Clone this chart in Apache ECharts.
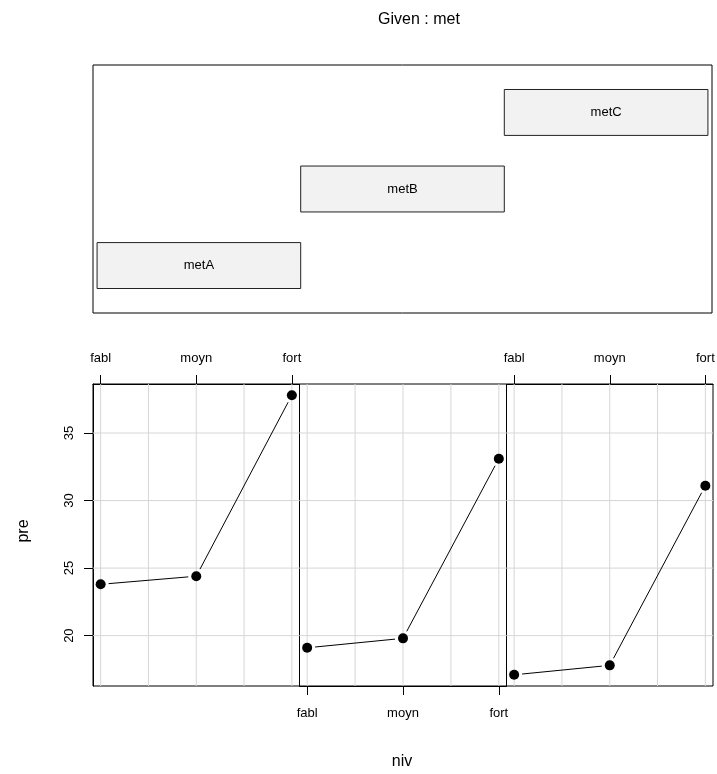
<!DOCTYPE html>
<html><head><meta charset="utf-8">
<script src="https://cdn.jsdelivr.net/npm/echarts@6/dist/echarts.min.js"></script>
<style>html,body{margin:0;padding:0;background:#fff}#c{width:717px;height:774px}</style>
</head><body><div id="c"></div>
<script>
// ---- data ----
const niv = ['fabl', 'moyn', 'fort'];
const nivPos = [1, 2, 3];
const metLevels = ['metA', 'metB', 'metC'];
const metLo = [0.5, 1.5, 2.5];
const metHi = [1.5, 2.5, 3.5];
const preA = [23.8, 24.4, 37.8];
const preB = [19.1, 19.8, 33.1];
const preC = [17.1, 17.8, 31.1];
const yTicks = [20, 25, 30, 35];
const xGrid = [1, 1.5, 2, 2.5, 3];

// ---- layout / styling ----
const FONT = '"Liberation Sans", Arial, Helvetica, sans-serif';
const SMALL = 13;
const BIG = 16;
const panels = [preA, preB, preC];
const allV = panels.flat();
const dmin = Math.min(...allV), dmax = Math.max(...allV);
const yMin = dmin - 0.04 * (dmax - dmin), yMax = dmax + 0.04 * (dmax - dmin);

const gridBoxes = [
  {left: 93, top: 65, width: 619, height: 248},
  {left: 93, top: 384, width: 206.5, height: 302},
  {left: 299.5, top: 384, width: 207, height: 302},
  {left: 506.5, top: 384, width: 206.5, height: 302}
];
const grid = gridBoxes.map(g => Object.assign({
  show: true, borderColor: '#000', borderWidth: 1, backgroundColor: 'transparent',
  containLabel: false, outerBoundsMode: 'none'
}, g));

const xAxis = [{gridIndex: 0, type: 'value', min: 0.48, max: 3.52, show: false}];
const yAxis = [{gridIndex: 0, type: 'value', min: 0.38, max: 3.62, show: false}];
for (let i = 1; i <= 3; i++) {
  xAxis.push({
    gridIndex: i, type: 'value', min: 0.92, max: 3.08,
    position: i === 2 ? 'bottom' : 'top',
    axisLine: {show: true, onZero: false, lineStyle: {color: '#000', width: 1}},
    axisTick: {show: true, inside: false, length: 9, customValues: nivPos, lineStyle: {color: '#000', width: 1}},
    axisLabel: {show: true, customValues: nivPos, formatter: v => niv[Math.round(v) - 1],
      margin: i === 2 ? 21 : 19, fontSize: SMALL, color: '#000', fontFamily: FONT},
    splitLine: {show: false}
  });
  if (i === 1) {
    yAxis.push({
      gridIndex: i, type: 'value', min: yMin, max: yMax,
      axisLine: {show: true, onZero: false, lineStyle: {color: '#000', width: 1}},
      axisTick: {show: true, inside: false, length: 9, customValues: yTicks, lineStyle: {color: '#000', width: 1}},
      axisLabel: {show: true, customValues: yTicks, rotate: 90, margin: 17, fontSize: SMALL, color: '#000', fontFamily: FONT},
      splitLine: {show: false}
    });
  } else {
    yAxis.push({gridIndex: i, type: 'value', min: yMin, max: yMax, show: false});
  }
}

const series = [];
// given panel bars
series.push({
  type: 'custom', xAxisIndex: 0, yAxisIndex: 0, silent: true,
  data: metLevels.map((m, i) => [metLo[i], metHi[i], i + 1]),
  encode: {x: [0, 1], y: 2},
  renderItem: (params, api) => {
    const lo = api.value(0), hi = api.value(1), lv = api.value(2);
    const p1 = api.coord([lo, lv + 0.3]), p2 = api.coord([hi, lv - 0.3]);
    return {type: 'group', children: [
      {type: 'rect', shape: {x: p1[0], y: p1[1], width: p2[0] - p1[0], height: p2[1] - p1[1]},
        style: {fill: '#f2f2f2', stroke: '#222', lineWidth: 1}},
      {type: 'text', style: {text: metLevels[params.dataIndex], x: (p1[0] + p2[0]) / 2, y: (p1[1] + p2[1]) / 2,
        align: 'center', verticalAlign: 'middle', fontSize: SMALL, fill: '#000', fontFamily: FONT}}
    ]};
  }
});

panels.forEach((vals, k) => {
  const gi = k + 1;
  // grid lines
  series.push({
    type: 'custom', xAxisIndex: gi, yAxisIndex: gi, silent: true, z: 1,
    data: xGrid.map(v => [0, v]).concat(yTicks.map(v => [1, v])),
    renderItem: (params, api) => {
      const cs = params.coordSys;
      const o = api.value(0), v = api.value(1);
      let shape;
      if (o === 0) {
        const x = api.coord([v, yMin])[0];
        shape = {x1: x, y1: cs.y, x2: x, y2: cs.y + cs.height};
      } else {
        const y = api.coord([1, v])[1];
        shape = {x1: cs.x, y1: y, x2: cs.x + cs.width, y2: y};
      }
      return {type: 'line', shape, style: {stroke: '#d6d6d6', lineWidth: 1}};
    }
  });
  // connecting segments with gaps (type "b")
  const segs = [];
  for (let j = 0; j < vals.length - 1; j++) segs.push([nivPos[j], vals[j], nivPos[j + 1], vals[j + 1]]);
  series.push({
    type: 'custom', xAxisIndex: gi, yAxisIndex: gi, silent: true, z: 2,
    data: segs, encode: {x: [0, 2], y: [1, 3]},
    renderItem: (params, api) => {
      const a = api.coord([api.value(0), api.value(1)]);
      const b = api.coord([api.value(2), api.value(3)]);
      const dx = b[0] - a[0], dy = b[1] - a[1], L = Math.hypot(dx, dy);
      const g = 8, ux = dx / L, uy = dy / L;
      return {type: 'line', shape: {x1: a[0] + ux * g, y1: a[1] + uy * g, x2: b[0] - ux * g, y2: b[1] - uy * g},
        style: {stroke: '#000', lineWidth: 1}};
    }
  });
  series.push({
    type: 'scatter', xAxisIndex: gi, yAxisIndex: gi, z: 3, silent: true,
    symbol: 'circle', symbolSize: 10, itemStyle: {color: '#000', opacity: 1},
    data: nivPos.map((x, j) => [x, vals[j]])
  });
});

const graphic = [
  {type: 'text', x: 419, y: 20, style: {text: 'Given : met', align: 'center', verticalAlign: 'middle', fontSize: BIG, fill: '#000', fontFamily: FONT}},
  {type: 'text', x: 402, y: 762, style: {text: 'niv', align: 'center', verticalAlign: 'middle', fontSize: BIG, fill: '#000', fontFamily: FONT}},
  {type: 'text', x: 24, y: 531, rotation: Math.PI / 2, style: {text: 'pre', align: 'center', verticalAlign: 'middle', fontSize: BIG, fill: '#000', fontFamily: FONT}}
];

const chart = echarts.init(document.getElementById('c'), null, {renderer: 'canvas'});
chart.setOption({animation: false, backgroundColor: '#fff', grid, xAxis, yAxis, series, graphic});
</script>
</body></html>
